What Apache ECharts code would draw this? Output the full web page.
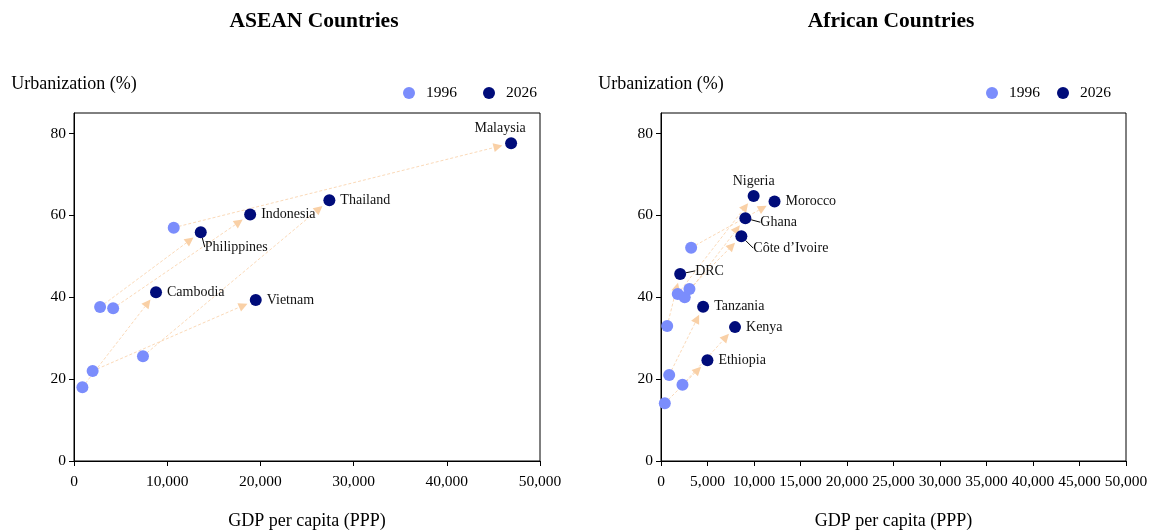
<!DOCTYPE html>
<html>
<head>
<meta charset="utf-8">
<script src="https://cdn.jsdelivr.net/npm/echarts@6/dist/echarts.min.js"></script>
<style>
html, body { margin: 0; padding: 0; background: #fff; }
#main { width: 1153px; height: 532px; }
</style>
</head>
<body>
<div id="main"></div>
<script>
// ASEAN data (1996 -> 2026)
var aseanNames = ['Malaysia', 'Thailand', 'Indonesia', 'Philippines', 'Cambodia', 'Vietnam'];
var aseanGdp1996 = [10700, 7400, 4200, 2800, 900, 2000];
var aseanUrb1996 = [57.0, 25.6, 37.3, 37.6, 18.0, 22.0];
var aseanGdp2026 = [46900, 27400, 18900, 13600, 8800, 19500];
var aseanUrb2026 = [77.6, 63.7, 60.2, 55.9, 41.2, 39.3];

// African data (1996 -> 2026)
var africaNames = ['Nigeria', 'Morocco', 'Ghana', 'Côte d’Ivoire', 'DRC', 'Tanzania', 'Kenya', 'Ethiopia'];
var africaGdp1996 = [1800, 3240, 2550, 3060, 665, 880, 2310, 410];
var africaUrb1996 = [40.8, 52.1, 40.0, 42.0, 33.0, 21.0, 18.6, 14.1];
var africaGdp2026 = [9960, 12210, 9070, 8640, 2060, 4530, 7960, 4990];
var africaUrb2026 = [64.7, 63.4, 59.3, 54.9, 45.7, 37.7, 32.7, 24.6];

var yTicks = [0, 20, 40, 60, 80];

var FONT = "'Liberation Serif', 'Times New Roman', serif";
var LIGHT = '#7b8dfc';
var DARK = '#000c7a';
var ARROW = '#f9d0a6';

// where the 2026 labels go (default: right of the point)
// shift = plain nudge, leader = nudge plus a short guide line
var labelStyle = {
    'Malaysia': { position: 'top', shift: [-11, 3] },
    'Nigeria': { position: 'top', shift: [0, 3] },
    'Philippines': { leader: [-7, 15] },
    'Ghana': { leader: [4, 4] },
    'Côte d’Ivoire': { leader: [1, 12] },
    'DRC': { leader: [4, -3] }
};

function points(names, gdp, urb) {
    return names.map(function (n, i) {
        return { name: n, value: [gdp[i], urb[i]] };
    });
}

function labelledPoints(names, gdp, urb) {
    return names.map(function (n, i) {
        var item = { name: n, value: [gdp[i], urb[i]] };
        var s = labelStyle[n];
        if (s && s.position) {
            item.label = { position: s.position };
        }
        if (s && s.leader) {
            item.labelLine = { show: true };
        }
        return item;
    });
}

function arrows(gdpA, urbA, gdpB, urbB) {
    return gdpA.map(function (g, i) {
        return [g, urbA[i], gdpB[i], urbB[i]];
    });
}

// dashed line with a small filled head that stops short of the end point
function renderArrow(params, api) {
    var p1 = api.coord([api.value(0), api.value(1)]);
    var p2 = api.coord([api.value(2), api.value(3)]);
    var dx = p2[0] - p1[0], dy = p2[1] - p1[1];
    var len = Math.sqrt(dx * dx + dy * dy) || 1;
    var ux = dx / len, uy = dy / len;
    var tip = [p2[0] - ux * 9, p2[1] - uy * 9];
    var base = [tip[0] - ux * 9, tip[1] - uy * 9];
    var nx = -uy * 4.5, ny = ux * 4.5;
    return {
        type: 'group',
        children: [
            {
                type: 'line',
                shape: { x1: p1[0], y1: p1[1], x2: base[0], y2: base[1] },
                style: { stroke: ARROW, lineWidth: 1, lineDash: [3, 2], opacity: 0.8 }
            },
            {
                type: 'polygon',
                shape: { points: [tip, [base[0] + nx, base[1] + ny], [base[0] - nx, base[1] - ny]] },
                style: { fill: ARROW }
            }
        ]
    };
}

function thousands(v) {
    return String(v).replace(/\B(?=(\d{3})+(?!\d))/g, ',');
}

function xAxisFor(idx, interval) {
    return {
        type: 'value', gridIndex: idx, min: 0, max: 50000, interval: interval,
        name: 'GDP per capita (PPP)', nameLocation: 'middle', nameGap: 51,
        nameTextStyle: { fontFamily: FONT, fontSize: 18, color: '#000' },
        axisLine: { lineStyle: { color: '#000', width: 1 } },
        axisTick: { length: 5, lineStyle: { color: '#000' } },
        axisLabel: { fontFamily: FONT, fontSize: 15.5, color: '#000', margin: 13, formatter: thousands },
        splitLine: { show: false }
    };
}

function yAxisFor(idx) {
    return {
        type: 'value', gridIndex: idx, min: 0, max: 85, interval: 20,
        name: 'Urbanization (%)', nameLocation: 'end', nameGap: 20,
        nameTextStyle: { fontFamily: FONT, fontSize: 18, color: '#000' },
        axisLine: { show: true, lineStyle: { color: '#000', width: 1 } },
        axisTick: { show: true, length: 5, lineStyle: { color: '#000' }, customValues: yTicks },
        axisLabel: { fontFamily: FONT, fontSize: 15.5, color: '#000', margin: 8, customValues: yTicks },
        splitLine: { show: false }
    };
}

function seriesFor(idx, names, g96, u96, g26, u26) {
    return [
        {
            type: 'custom', name: 'arrows', xAxisIndex: idx, yAxisIndex: idx, z: 1,
            renderItem: renderArrow, encode: { x: [0, 2], y: [1, 3] },
            data: arrows(g96, u96, g26, u26), silent: true
        },
        {
            type: 'scatter', name: '1996', xAxisIndex: idx, yAxisIndex: idx, z: 3,
            symbolSize: 12, itemStyle: { color: LIGHT, opacity: 1 },
            data: points(names, g96, u96)
        },
        {
            type: 'scatter', name: '2026', xAxisIndex: idx, yAxisIndex: idx, z: 4,
            symbolSize: 12, itemStyle: { color: DARK, opacity: 1 },
            label: {
                show: true, position: 'right', distance: 5, formatter: '{b}',
                fontFamily: FONT, fontSize: 14, color: '#111'
            },
            labelLine: { show: false, lineStyle: { color: '#000', width: 1 } },
            labelLayout: function (p) {
                var s = labelStyle[p.text];
                var d = s && (s.leader || s.shift);
                return d ? { dx: d[0], dy: d[1] } : {};
            },
            data: labelledPoints(names, g26, u26)
        }
    ];
}

function legendFor(left, gap) {
    return {
        left: left, top: 80, itemWidth: 24, itemHeight: 12, itemGap: gap,
        icon: 'circle', data: ['1996', '2026'],
        textStyle: { fontFamily: FONT, fontSize: 15.5, color: '#000' }
    };
}

var myChart = echarts.init(document.getElementById('main'));

var option = {
    animation: false,
    title: [
        { text: 'ASEAN Countries', left: 309, top: 5, textAlign: 'center',
          textStyle: { fontFamily: FONT, fontSize: 21.5, fontWeight: 'bold', color: '#000' } },
        { text: 'African Countries', left: 886, top: 5, textAlign: 'center',
          textStyle: { fontFamily: FONT, fontSize: 21.5, fontWeight: 'bold', color: '#000' } }
    ],
    legend: [legendFor(398, 26), legendFor(981, 17)],
    grid: [
        { left: 74, right: 613, top: 113, bottom: 71, show: true, borderColor: '#000', borderWidth: 1,
          outerBoundsMode: 'none' },
        { left: 661, right: 27, top: 113, bottom: 71, show: true, borderColor: '#000', borderWidth: 1,
          outerBoundsMode: 'none' }
    ],
    xAxis: [xAxisFor(0, 10000), xAxisFor(1, 5000)],
    yAxis: [yAxisFor(0), yAxisFor(1)],
    series: []
        .concat(seriesFor(0, aseanNames, aseanGdp1996, aseanUrb1996, aseanGdp2026, aseanUrb2026))
        .concat(seriesFor(1, africaNames, africaGdp1996, africaUrb1996, africaGdp2026, africaUrb2026))
};

myChart.setOption(option);
</script>
</body>
</html>
